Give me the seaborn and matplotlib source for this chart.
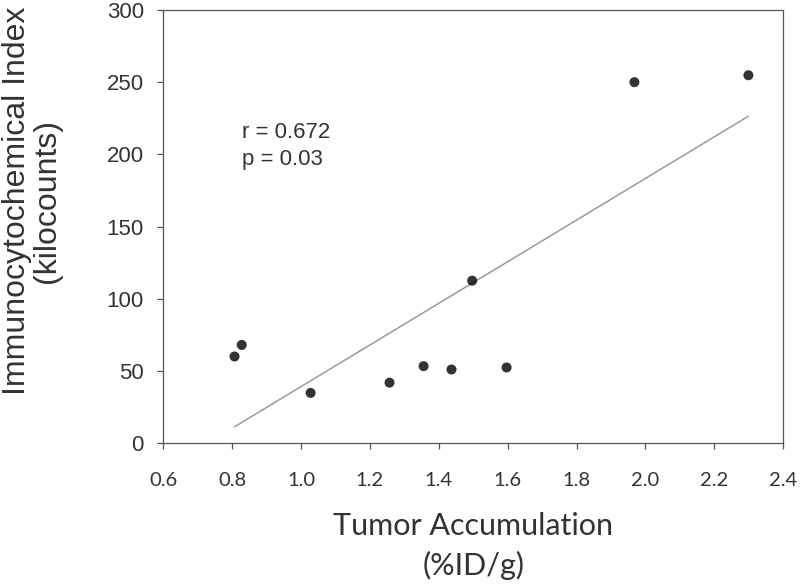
import pandas as pd
import matplotlib
matplotlib.use("Agg")
from matplotlib import pyplot as plt
import seaborn as sns

# values
tumor_accum = [0.807, 0.828, 1.028, 1.257, 1.356, 1.437, 1.497, 1.597, 1.968, 2.299]
ici_kcounts = [60.1, 68.1, 34.9, 42.0, 53.4, 51.1, 112.6, 52.5, 250.0, 254.8]
x_ticks = [0.6, 0.8, 1.0, 1.2, 1.4, 1.6, 1.8, 2.0, 2.2, 2.4]
y_ticks = [0, 50, 100, 150, 200, 250, 300]
stats_lines = ["r = 0.672", "p = 0.03"]

df = pd.DataFrame({"accum": tumor_accum, "ici": ici_kcounts})

sns.set_style("ticks")
plt.rcParams["font.family"] = ["Liberation Sans", "DejaVu Sans"]

fig = plt.figure(figsize=(8, 5.86), dpi=100)
ax = fig.add_axes([0.204, 0.2435, 0.775, 0.7395])

# scatter + least squares line
sns.regplot(x="accum", y="ici", data=df, ax=ax, ci=None,
            scatter_kws={"color": "black", "s": 52, "edgecolor": "none", "zorder": 3},
            line_kws={"color": "#9a9a9a", "linewidth": 1.1})

ax.set_xlim(0.6, 2.4)
ax.set_ylim(0, 300)
ax.set_xticks(x_ticks)
ax.set_xticklabels(["%.1f" % t for t in x_ticks], family="Lato", fontsize=14.5, color="#333333")
ax.set_yticks(y_ticks)
ax.set_yticklabels([str(t) for t in y_ticks], fontsize=16, color="#333333")

for s in ax.spines.values():
    s.set_color("#555555")
    s.set_linewidth(0.9)
ax.tick_params(axis="both", direction="out", length=4.5, width=0.9, color="#555555")
ax.tick_params(axis="x", pad=16)
ax.tick_params(axis="y", pad=9.5)

ax.set_xlabel("Tumor Accumulation\n(%ID/g)", family="Lato", fontsize=22, color="#333333",
              labelpad=17, linespacing=1.45)
ax.set_ylabel("Immunocytochemical Index\n(kilocounts)", fontsize=23, color="#333333",
              linespacing=1.0)
# label sits a bit above the axis centre in the original
ax.yaxis.set_label_coords(-0.163, 0.56)

# correlation annotation
ax.text(0.828, 211.4, stats_lines[0], fontsize=16, color="#333333", va="baseline")
ax.text(0.828, 192.7, stats_lines[1], fontsize=16, color="#333333", va="baseline")

plt.savefig("out.png", dpi=100)
